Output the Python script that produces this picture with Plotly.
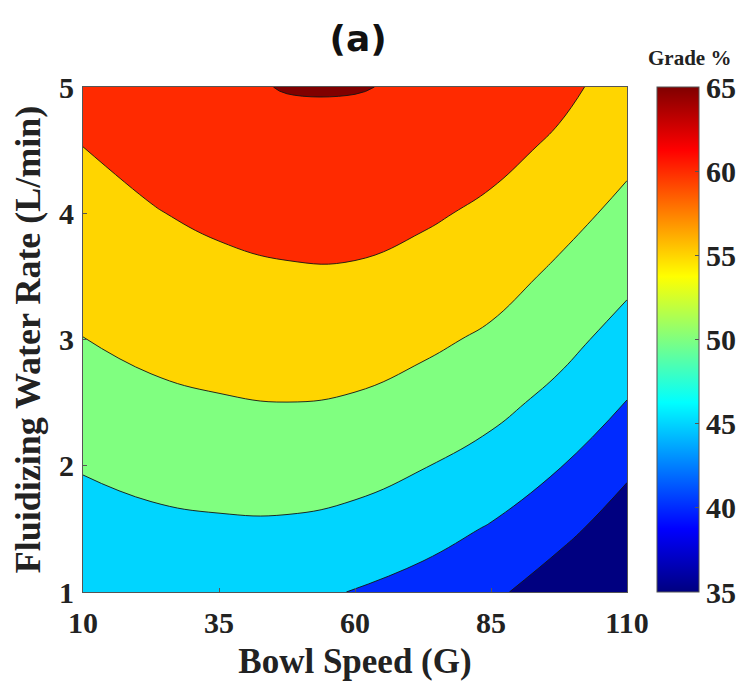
import plotly.graph_objects as go

# Bowl speed (G) grid columns and fluidizing water rate (L/min) grid rows
bowl_speed = [10, 22.5, 35, 47.5, 60, 72.5, 85, 97.5, 110]
water_rate = [1, 1.5, 2, 2.5, 3, 3.5, 4, 4.5, 5]

# Grade % (rows follow water_rate, columns follow bowl_speed)
grade_y1 = [45.7, 45.84, 46.24, 46.03, 44.85, 43.21, 41.0, 37.31, 33.8]
grade_y15 = [47.9, 48.82, 49.30, 49.32, 48.52, 46.86, 44.62, 41.45, 37.42]
grade_y2 = [50.36, 51.55, 52.11, 52.31, 51.74, 50.19, 48.22, 45.22, 40.94]
grade_y25 = [52.76, 54.00, 54.66, 54.98, 54.57, 53.21, 51.41, 48.63, 44.86]
grade_y3 = [54.92, 56.19, 56.96, 57.38, 57.15, 55.95, 54.25, 51.57, 48.13]
grade_y35 = [56.84, 58.12, 59.00, 59.50, 59.47, 58.40, 56.84, 54.14, 51.10]
grade_y4 = [58.51, 59.78, 60.79, 61.48, 61.58, 60.65, 59.18, 56.63, 53.78]
grade_y45 = [59.95, 61.18, 62.32, 63.34, 63.47, 62.68, 61.27, 59.20, 56.14]
grade_y5 = [60.9, 62.6, 64.2, 65.2, 65.2, 64.5, 63.12, 61.1, 58.17]

x_ticks = [10, 35, 60, 85, 110]
y_ticks = [1, 2, 3, 4, 5]
cbar_ticks = [35, 40, 45, 50, 55, 60, 65]

grade = [grade_y1, grade_y15, grade_y2, grade_y25, grade_y3,
         grade_y35, grade_y4, grade_y45, grade_y5]

jet = [
    [0.0, "rgb(0,0,128)"],
    [0.125, "rgb(0,0,255)"],
    [0.375, "rgb(0,255,255)"],
    [0.625, "rgb(255,255,0)"],
    [0.875, "rgb(255,0,0)"],
    [1.0, "rgb(128,0,0)"],
]

serif = "Liberation Serif, Times New Roman, serif"
txt = "#222222"

fig = go.Figure()
fig.add_trace(go.Contour(
    x=bowl_speed, y=water_rate, z=grade,
    colorscale=jet, showscale=False,
    contours=dict(start=40, end=65, size=5, coloring="fill", showlines=True),
    line=dict(color="rgba(20,20,20,0.9)", width=1, smoothing=1.3),
    hoverinfo="skip",
))

# continuous colour bar (35-65)
fig.add_trace(go.Scatter(
    x=[10], y=[1], mode="markers", hoverinfo="skip", showlegend=False,
    marker=dict(
        size=1, opacity=0, color=[50], colorscale=jet, cmin=35, cmax=65,
        showscale=True,
        colorbar=dict(
            x=1.055, xanchor="left", xpad=0, ypad=0,
            y=0.5, yanchor="middle", len=1.0, lenmode="fraction",
            thickness=42, outlinewidth=1, outlinecolor="#555555",
            tickvals=cbar_ticks, ticks="inside", ticklen=4, tickcolor="#555555",
            tickfont=dict(family=serif, size=30, color=txt, weight="bold"),
        ),
    ),
))

# the page body adds an 8 px offset, so the figure is drawn 8 px smaller
fig.update_layout(
    width=745, height=680,
    margin=dict(l=75, r=126, t=79, b=96),
    paper_bgcolor="white", plot_bgcolor="white",
    title=dict(text="(a)", x=0.47, xanchor="center", y=0.955, yanchor="middle",
               font=dict(family="Liberation Sans Narrow, DejaVu Sans, sans-serif",
                         size=36, color="#111111", weight="bold")),
    annotations=[dict(text="Grade %", xref="paper", yref="paper",
                      x=1.115, y=1.0, xanchor="center", yanchor="bottom", yshift=15,
                      showarrow=False,
                      font=dict(family=serif, size=21, color=txt, weight="bold"))],
    showlegend=False,
)
fig.update_xaxes(
    range=[10, 110], tickvals=x_ticks, showgrid=False, zeroline=False,
    showline=True, mirror=True, linecolor="#555555", linewidth=1,
    ticks="inside", ticklen=4, tickcolor="#555555", ticklabelstandoff=4,
    tickfont=dict(family=serif, size=30, color=txt, weight="bold"),
    title=dict(text="Bowl Speed (G)", standoff=10,
               font=dict(family=serif, size=35, color=txt, weight="bold")),
)
fig.update_yaxes(
    range=[1, 5], tickvals=y_ticks, showgrid=False, zeroline=False,
    showline=True, mirror=True, linecolor="#555555", linewidth=1,
    ticks="inside", ticklen=4, tickcolor="#555555", ticklabelstandoff=2,
    tickfont=dict(family=serif, size=30, color=txt, weight="bold"),
    title=dict(text="Fluidizing Water Rate (L/min)", standoff=10,
               font=dict(family=serif, size=36, color=txt, weight="bold")),
)

fig.write_html("out.html")
